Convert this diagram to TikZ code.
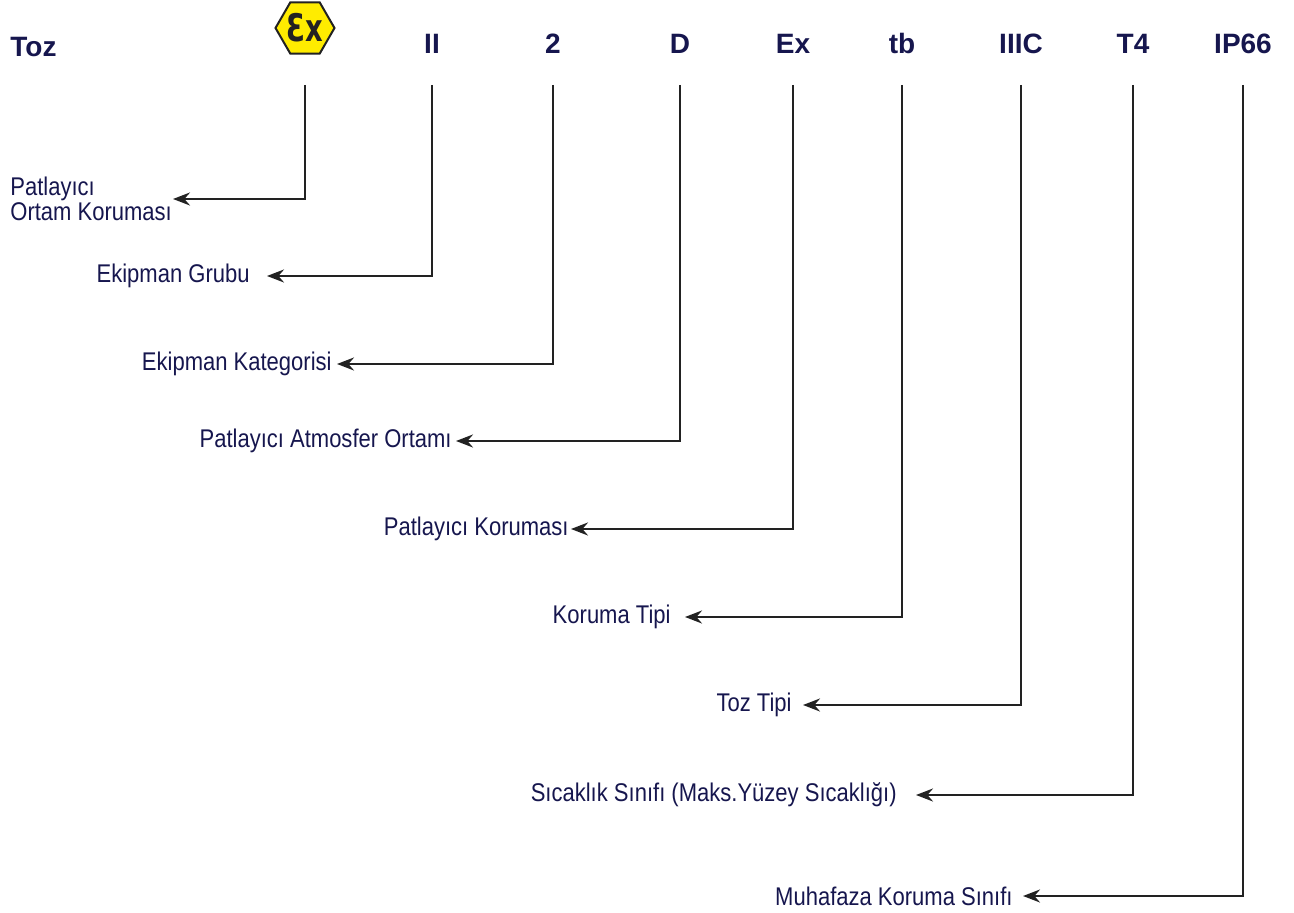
\documentclass[tikz,border=0pt]{standalone}
\usepackage{fontspec}
\setmainfont{Liberation Sans}
\newfontfamily\lblfont[FakeStretch=0.86]{Liberation Sans}
\newfontfamily\exfont[FakeStretch=0.72]{DejaVu Sans}
\usetikzlibrary{shapes.geometric, arrows.meta, positioning}
\definecolor{inknavy}{HTML}{16164E}
\definecolor{linegray}{HTML}{222222}
\definecolor{atexyellow}{HTML}{FFEC00}
\tikzstyle{hdr}=[font=\fontsize{14}{14}\selectfont\bfseries, text=inknavy, anchor=base, inner sep=0pt]
\tikzstyle{lbl}=[font=\lblfont\fontsize{12.8}{12.5}\selectfont, text=inknavy, inner sep=0pt]
\tikzstyle{conn}=[->, draw=linegray, line width=1.2pt]
\tikzstyle{hexsym}=[regular polygon, regular polygon sides=6, minimum size=29.5pt, inner sep=0pt, draw=linegray, line width=1pt, fill=atexyellow]

\begin{document}
\begin{tikzpicture}[x=0.5pt, y=-0.5pt, >={Stealth[length=8.5pt,width=6.5pt,inset=2.8pt]}]
  \useasboundingbox (0,0) rectangle (1294,913);
  % marking row
  \node[hdr, anchor=base west] (toz) at (10,57) {Toz};
  \node[hexsym, label={[font=\exfont\bfseries\fontsize{19}{19}\selectfont, text=linegray]center:Ɛx}] (hex) at (305,28) {};
  \node[hdr] (grp) at (432,54) {II};
  \node[hdr] (cat) at (553,54) {2};
  \node[hdr] (atm) at (680,54) {D};
  \node[hdr] (exp) at (793,54) {Ex};
  \node[hdr] (typ) at (902,54) {tb};
  \node[hdr] (dust) at (1021,54) {IIIC};
  \node[hdr] (temp) at (1133,54) {T4};
  \node[hdr] (ipc) at (1243,54) {IP66};
  \coordinate (top) at (0,85);

  % meanings
  \coordinate (thex) at (173,199);
  \node[lbl, anchor=west, align=left] (lhex) at (10,199) {Patlayıcı\\Ortam Koruması};
  \coordinate (tgrp) at (267,276);
  \node[lbl, left=8.5pt of tgrp] (lgrp) {Ekipman Grubu};
  \coordinate (tcat) at (337,364);
  \node[lbl, left=2.5pt of tcat] (lcat) {Ekipman Kategorisi};
  \coordinate (tatm) at (456,441);
  \node[lbl, left=2pt of tatm] (latm) {Patlayıcı Atmosfer Ortamı};
  \coordinate (texp) at (571,529);
  \node[lbl, left=1pt of texp] (lexp) {Patlayıcı Koruması};
  \coordinate (ttyp) at (685,617);
  \node[lbl, left=7pt of ttyp] (ltyp) {Koruma Tipi};
  \coordinate (tdust) at (803,705);
  \node[lbl, left=5.5pt of tdust] (ldust) {Toz Tipi};
  \coordinate (ttemp) at (916,795);
  \node[lbl, left=9.5pt of ttemp] (ltemp) {Sıcaklık Sınıfı (Maks.Yüzey Sıcaklığı)};
  \coordinate (tipc) at (1023,896);
  \node[lbl, left=5pt of tipc] (lipc) {Muhafaza Koruma Sınıfı};

  \draw[conn] (hex |- top) |- (thex);
  \draw[conn] (grp |- top) |- (tgrp);
  \draw[conn] (cat |- top) |- (tcat);
  \draw[conn] (atm |- top) |- (tatm);
  \draw[conn] (exp |- top) |- (texp);
  \draw[conn] (typ |- top) |- (ttyp);
  \draw[conn] (dust |- top) |- (tdust);
  \draw[conn] (temp |- top) |- (ttemp);
  \draw[conn] (ipc |- top) |- (tipc);
\end{tikzpicture}
\end{document}
